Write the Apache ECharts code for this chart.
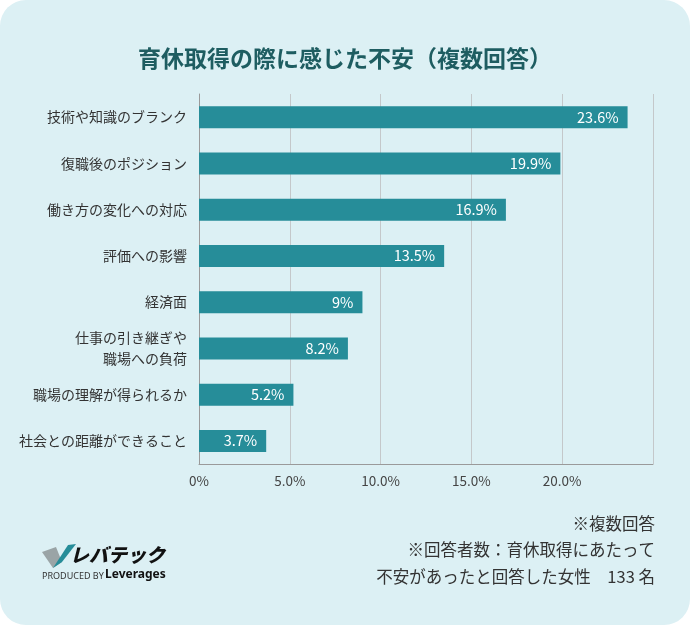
<!DOCTYPE html>
<html>
<head>
<meta charset="utf-8">
<script src="https://cdn.jsdelivr.net/npm/echarts@6/dist/echarts.min.js"></script>
<style>
  html, body { margin: 0; padding: 0; background: #ffffff; }
  #chart { width: 690px; height: 625px; background: #dcf0f4; border-radius: 26px; overflow: hidden; }
</style>
</head>
<body>
<div id="chart"></div>
<script>
// 項目（上から順）
const categories = [
  '技術や知識のブランク',
  '復職後のポジション',
  '働き方の変化への対応',
  '評価への影響',
  '経済面',
  '仕事の引き継ぎや\n職場への負荷',
  '職場の理解が得られるか',
  '社会との距離ができること'
];
const values = [23.6, 19.9, 16.9, 13.5, 9, 8.2, 5.2, 3.7];
const tickLabels = ['0%', '5.0%', '10.0%', '15.0%', '20.0%', ''];
const notes = ['※複数回答', '※回答者数：育休取得にあたって', '不安があったと回答した女性　133 名'];

const font = '"Noto Sans CJK JP", "Noto Sans", sans-serif';
const chart = echarts.init(document.getElementById('chart'));

const option = {
  backgroundColor: 'transparent',
  textStyle: { fontFamily: font },
  title: {
    text: '育休取得の際に感じた不安（複数回答）',
    left: 'center',
    top: 42,
    textStyle: { color: '#1e5d61', fontSize: 23, fontWeight: 'bold', fontFamily: font }
  },
  grid: { left: 199, right: 37, top: 94, bottom: 161, containLabel: false },
  xAxis: {
    type: 'value',
    min: 0,
    max: 25,
    interval: 5,
    axisLine: { show: true, lineStyle: { color: '#9a9a9a', width: 1 } },
    axisTick: { show: false },
    splitLine: { show: true, lineStyle: { color: '#c4c8ca', width: 1 } },
    axisLabel: {
      color: '#444',
      fontSize: 13.5,
      margin: 10,
      formatter: (v) => tickLabels[Math.round(v / 5)]
    }
  },
  yAxis: {
    type: 'category',
    data: categories,
    inverse: true,
    axisLine: { show: true, lineStyle: { color: '#9a9a9a', width: 1 } },
    axisTick: { show: false },
    axisLabel: { color: '#333', fontSize: 14, margin: 12, lineHeight: 21, align: 'right' }
  },
  series: [{
    type: 'bar',
    data: values,
    barWidth: 22,
    itemStyle: { color: '#268d99' },
    label: {
      show: true,
      position: 'insideRight',
      distance: 9,
      color: '#ffffff',
      fontSize: 14.5,
      formatter: (p) => p.value + '%'
    }
  }],
  graphic: [
    // 注記
    ...notes.map((t, i) => ({
      type: 'text',
      right: 35,
      top: 515 + i * 26.5,
      style: { text: t, fill: '#333', font: '16.5px ' + font, textAlign: 'right' }
    })),
    // ロゴ
    {
      type: 'polygon',
      shape: { points: [[42, 552], [56, 547], [62, 562], [53, 568]] },
      style: { fill: '#9aa4a6' }
    },
    {
      type: 'polygon',
      shape: { points: [[53, 568], [62, 562], [76, 544], [68, 545]] },
      style: { fill: '#268d99' }
    },
    {
      type: 'text',
      left: 70,
      top: 545,
      style: { text: 'レバテック', fill: '#111', font: 'italic 900 19px ' + font }
    },
    {
      type: 'text',
      left: 42,
      top: 572,
      style: { text: 'PRODUCED BY', fill: '#333', font: '9px "Noto Sans", sans-serif' }
    },
    {
      type: 'text',
      left: 105,
      top: 569,
      style: { text: 'Leverages', fill: '#111', font: 'bold 12px "Noto Sans", sans-serif' }
    }
  ]
};

chart.setOption(option);
</script>
</body>
</html>
